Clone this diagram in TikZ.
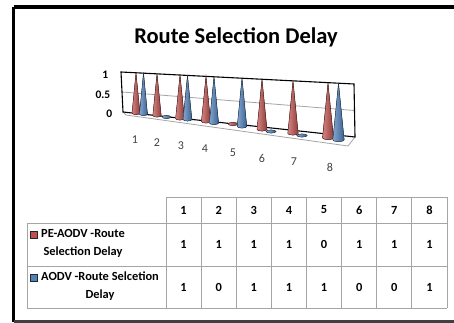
\documentclass[tikz,border=0pt]{standalone}
\usepackage{fontspec}
\setmainfont{Carlito}
\usepackage{tikz}
\usetikzlibrary{positioning,calc}

\definecolor{peRed}{RGB}{192,80,77}
\definecolor{aoBlue}{RGB}{79,129,189}
\definecolor{lineGray}{RGB}{165,165,165}
\definecolor{textGray}{RGB}{64,64,64}

\tikzset{
  cell/.style={font=\fontsize{12.4}{18}\selectfont\bfseries, inner sep=0pt},
  axislbl/.style={font=\fontsize{11.5}{13}\selectfont\bfseries, inner sep=0pt, anchor=east},
  catlbl/.style={font=\fontsize{12}{14}\selectfont, text=textGray, inner sep=0pt},
  keybox/.style={draw=black!85, line width=0.9pt, minimum size=7.5pt, inner sep=0pt},
  redcone/.style={left color=peRed!70!white, right color=peRed!75!black, draw=peRed!40!black, line width=0.4pt},
  bluecone/.style={left color=aoBlue!70!white, right color=aoBlue!75!black, draw=aoBlue!40!black, line width=0.4pt},
  tblline/.style={draw=lineGray, line width=1pt}
}

% cone: style, centre x, base y, apex y, half width
\newcommand{\drawcone}[5]{%
  \filldraw[#1] (#2-#5,#3) -- (#2,#4) -- (#2+#5,#3)
    arc[start angle=0, end angle=180, x radius=#5, y radius=1.6] -- cycle;}

\begin{document}
\begin{tikzpicture}[x=1pt,y=-1pt]
    \useasboundingbox (0,0) rectangle (454,323);
    \clip (0,0) rectangle (454,323);
    \fill[white] (0,0) rectangle (454,323);

    % 1. Frame and title
    \draw[line width=3.5pt] (13.5,6.8) -- (470,6.8);
    \draw[line width=3.5pt] (13.5,6.8) -- (13.5,321.5);
    \draw[black!75, line width=2.5pt] (13.5,321.5) -- (470,321.5);
    \node[font=\fontsize{22.5}{26}\selectfont\bfseries] (title) at (236,37) {Route Selection Delay};

    % 2. Back wall, floor and the 0.5 gridline
    \coordinate (wallTL) at (121,72);
    \coordinate (wallTR) at (354,84);
    \coordinate (wallBR) at (355,137);
    \coordinate (wallBL) at (123,112);
    \coordinate (floorL) at (126,115);
    \coordinate (floorR) at (348,146);
    \draw[lineGray, line width=0.8pt] (wallBL) -- (floorL) -- (floorR) -- (wallBR);
    \draw[lineGray, line width=0.8pt] ($(wallTL)!0.5!(wallBL)$) -- ($(wallTR)!0.5!(wallBR)$);
    \draw[line width=1.1pt] (wallBL) -- (wallTL) -- (wallTR) -- (wallBR) -- cycle;

    \node[axislbl] (ytick1) at (108.5,75) {1};
    \node[axislbl] (ytick05) at (110.5,95) {0.5};
    \node[axislbl] (ytick0) at (112.5,114) {0};

    % 3. Cones (value 1) and flat disks (value 0)
    \foreach \cx/\yb/\ya/\w in {136/113/72.5/4, 157/115.5/73.5/4.2, 180/118.5/74.5/4.4,
        206/121.5/76/4.6, 262/129.5/79/5, 293/133.5/80.5/5.2, 328/138/82.5/5.5}
      \drawcone{redcone}{\cx}{\yb}{\ya}{\w};
    \filldraw[redcone] (233,124) ellipse[x radius=4.8, y radius=1.6];

    \foreach \cx/\yb/\ya/\w in {143.5/114/72.5/4, 187.5/119.5/75/4.4, 214/123/76.5/4.6,
        242/126.5/78/4.8, 338.5/140/83/5.7}
      \drawcone{bluecone}{\cx}{\yb}{\ya}{\w};
    \foreach \cx/\yb/\w in {166.5/117/4.2, 271/131.5/5, 302/135.5/5.2}
      \filldraw[bluecone] (\cx,\yb) ellipse[x radius=\w, y radius=1.6];

    % 4. Category labels under the floor
    \foreach \cx/\cy [count=\i] in {135/140, 157/143, 181/146, 205/149, 233/153, 262/158, 294/162, 330/167}
      \node[catlbl] (cat\i) at (\cx,\cy) {\i};

    % 5. Data table
    \draw[tblline] (166,197) -- (447,197);
    \foreach \y in {223,266,308}
      \draw[tblline] (27,\y) -- (447,\y);
    \draw[tblline] (27,223) -- (27,308);
    \foreach \k in {0,...,8}
      \draw[tblline] ({166+35.125*\k},197) -- ({166+35.125*\k},308);

    \foreach \i in {1,...,8}
      \node[cell] (head\i) at ({166+35.125*(\i-0.5)},210) {\i};
    \foreach \v [count=\i] in {1,1,1,1,0,1,1,1}
      \node[cell] (pe\i) at ({166+35.125*(\i-0.5)},244.5) {\v};
    \foreach \v [count=\i] in {1,0,1,1,1,0,0,1}
      \node[cell] (ao\i) at ({166+35.125*(\i-0.5)},287) {\v};

    % legend keys and row names
    \node[keybox, fill=peRed] (pekey) at (34,235) {};
    \node[cell, anchor=west, align=center] (pename) at (41,243) {PE-AODV -Route\\Selection Delay};
    \node[keybox, fill=aoBlue] (aokey) at (34,278) {};
    \node[cell, anchor=west, align=center] (aoname) at (41,286) {AODV -Route Selcetion\\Delay};
\end{tikzpicture}
\end{document}
